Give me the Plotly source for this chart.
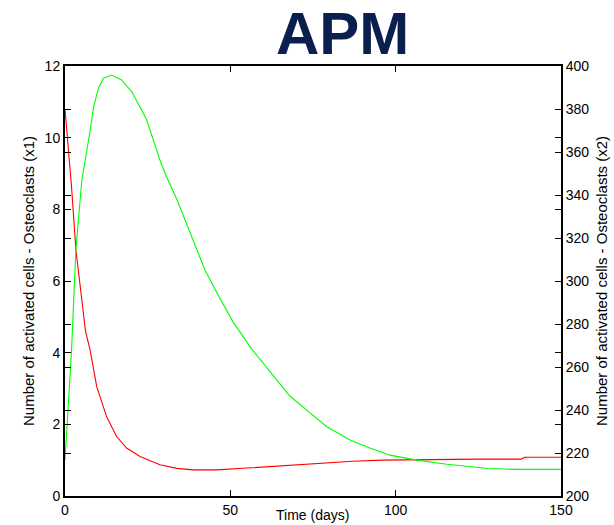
import plotly.graph_objects as go

# Time (days)
red_t = [0, 2.0, 3.3, 5.5, 6.2, 7.6, 9.6, 12.6, 15.6, 18.7, 22.7, 28.7, 33.8, 38.8, 45.9,
         55, 68, 80, 87, 96, 108, 116, 125, 138, 139, 150]
# Osteoclasts x1 (left axis)
red_v = [10.8, 8.6, 6.87, 5.0, 4.6, 4.07, 3.05, 2.21, 1.66, 1.33, 1.1, 0.87, 0.77, 0.73, 0.73,
         0.78, 0.86, 0.93, 0.97, 1.0, 1.02, 1.03, 1.03, 1.03, 1.08, 1.08]

green_t = [0, 1.0, 2.0, 3.3, 5.1, 7.6, 8.6, 10.1, 11.6, 14.1, 17.1, 20.2, 24.7, 28.7, 30.7,
           33.9, 37.8, 42.3, 46.3, 50.8, 56.5, 68, 74.1, 79.2, 86.2, 92.2, 98.3, 106.4, 115.5,
           121.5, 128, 135.5, 150]
# Osteoclasts x2 (right axis)
green_v = [216.7, 240.0, 268.3, 315.0, 347.0, 370.0, 380.5, 389.7, 394.3, 395.8, 393.5, 388.0,
           375.0, 356.3, 348.5, 337.7, 322.3, 305.2, 293.5, 281.0, 268.3, 246.5, 238.7, 232.2,
           226.0, 222.3, 219.0, 216.7, 214.8, 213.7, 212.8, 212.4, 212.4]

x_ticks = [0, 50, 100, 150]
y1_ticks = [0, 2, 4, 6, 8, 10, 12]
y2_ticks = [200, 220, 240, 260, 280, 300, 320, 340, 360, 380, 400]

FONT = "Liberation Sans, Arial, sans-serif"

fig = go.Figure()
fig.add_trace(go.Scatter(x=red_t, y=red_v, mode="lines", line=dict(color="#ff0000", width=1.1),
                         yaxis="y", showlegend=False))
fig.add_trace(go.Scatter(x=green_t, y=green_v, mode="lines", line=dict(color="#00ff00", width=1.1),
                         yaxis="y2", showlegend=False))

axis_common = dict(showgrid=False, zeroline=False, showline=True, linecolor="black", linewidth=2,
                   ticks="inside", ticklen=6, tickcolor="black", tickwidth=1,
                   tickfont=dict(family=FONT, size=14, color="black"))

fig.update_layout(
    width=614, height=525,
    margin=dict(l=65, r=53, t=66, b=29, autoexpand=False),
    paper_bgcolor="white", plot_bgcolor="white",
    xaxis=dict(range=[0, 150], tickvals=x_ticks, mirror="ticks", **axis_common),
    yaxis=dict(range=[0, 12], tickvals=y1_ticks, mirror="ticks", **axis_common),
    yaxis2=dict(range=[200, 400], tickvals=y2_ticks, overlaying="y", side="right",
                mirror="ticks", **axis_common),
    annotations=[
        dict(text="<b>APM</b>", xref="paper", yref="paper", x=(342 - 65) / 496, y=1.0,
             yshift=-3, xanchor="center", yanchor="bottom", showarrow=False,
             font=dict(family=FONT, size=60, color="#0b1f4e")),
        dict(text="Time (days)", xref="paper", yref="paper", x=(312 - 65) / 496, y=0,
             yshift=-19, xanchor="center", yanchor="middle", showarrow=False,
             font=dict(family=FONT, size=14, color="black")),
        dict(text="Number of activated cells - Osteoclasts (x1)", xref="paper", yref="paper",
             x=0, xshift=-37, y=0.5, textangle=-90, xanchor="center", yanchor="middle",
             showarrow=False, font=dict(family=FONT, size=15, color="black")),
        dict(text="Number of activated cells - Osteoclasts (x2)", xref="paper", yref="paper",
             x=1, xshift=40, y=0.5, textangle=-90, xanchor="center", yanchor="middle",
             showarrow=False, font=dict(family=FONT, size=15, color="black")),
    ],
)

fig.write_html("out.html", config={"displayModeBar": False},
               post_script="document.body.style.margin='0px';")
